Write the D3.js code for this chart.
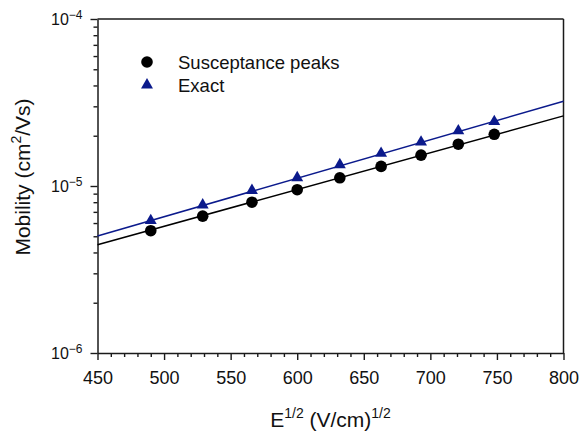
<!DOCTYPE html>
<html>
<head>
<meta charset="utf-8">
<script src="https://cdn.jsdelivr.net/npm/d3@7/dist/d3.min.js"></script>
<style>
  html, body { margin: 0; padding: 0; background: #fff; }
  svg { display: block; font-family: "Liberation Sans", Arial, sans-serif; }
</style>
</head>
<body>
<svg id="chart" width="580" height="432"></svg>
<script>
// Square root of field, (V/cm)^1/2
const fieldSqrt = [490, 529, 566, 600, 632, 663, 693, 721, 748];
// Mobility from susceptance peaks, cm^2/Vs
const mobilitySusceptance = [5.4e-6, 6.6e-6, 8.0e-6, 9.5e-6, 1.12e-5, 1.31e-5, 1.53e-5, 1.78e-5, 2.04e-5];
// Exact mobility, cm^2/Vs
const mobilityExact = [6.2e-6, 7.7e-6, 9.4e-6, 1.12e-5, 1.34e-5, 1.57e-5, 1.83e-5, 2.14e-5, 2.43e-5];
// Fitted lines, evaluated at the axis ends
const fitX = [450, 800];
const fitSusceptance = [4.45e-6, 2.63e-5];
const fitExact = [5.02e-6, 3.22e-5];

const xMajorTicks = [450, 500, 550, 600, 650, 700, 750, 800];
const yMajorExponents = [-6, -5, -4];
const legendLabels = ["Susceptance peaks", "Exact"];

const black = "#000000";
const blue = "#0b1a8c";
const axisColor = "#1a1a1a";

const svg = d3.select("#chart");
const plotLeft = 97.5, plotRight = 563.5, plotTop = 19, plotBottom = 353;

const x = d3.scaleLinear().domain([450, 800]).range([plotLeft, plotRight]);
const y = d3.scaleLog().domain([1e-6, 1e-4]).range([plotBottom, plotTop]);

// minor tick positions
const xMinor = d3.range(450, 801, 10).filter(v => v % 50 !== 0);
const yMinor = [];
[1e-6, 1e-5].forEach(dec => { for (let k = 2; k <= 9; k++) yMinor.push(k * dec); });

// frame: top and right edges
svg.append("line").attr("x1", plotLeft).attr("x2", plotRight).attr("y1", plotTop).attr("y2", plotTop)
  .attr("stroke", axisColor).attr("stroke-width", 1.5);
svg.append("line").attr("x1", plotRight).attr("x2", plotRight).attr("y1", plotTop).attr("y2", plotBottom)
  .attr("stroke", axisColor).attr("stroke-width", 1.5);

// x axis
const gx = svg.append("g").attr("transform", `translate(0,${plotBottom})`);
gx.call(d3.axisBottom(x).tickValues(xMinor).tickSize(4).tickFormat(""))
  .call(g => g.select(".domain").remove());
gx.append("g").call(d3.axisBottom(x).tickValues(xMajorTicks).tickSize(7).tickSizeOuter(0).tickPadding(11).tickFormat(d3.format("d")));
gx.selectAll("line").attr("stroke", axisColor).attr("stroke-width", 1.4);
gx.selectAll(".domain").attr("stroke", axisColor).attr("stroke-width", 1.5);
gx.selectAll("text").attr("font-size", 18).attr("fill", "#111").attr("font-family", "Liberation Sans, Arial, sans-serif");

// y axis
const gy = svg.append("g").attr("transform", `translate(${plotLeft},0)`);
gy.call(d3.axisLeft(y).tickValues(yMinor).tickSize(4).tickFormat(""))
  .call(g => g.select(".domain").remove());
const yMajorValues = yMajorExponents.map(e => Math.pow(10, e));
const gyMajor = gy.append("g").call(d3.axisLeft(y).tickValues(yMajorValues).tickSize(7).tickSizeOuter(0).tickPadding(8).tickFormat(""));
gy.selectAll("line").attr("stroke", axisColor).attr("stroke-width", 1.4);
gy.selectAll(".domain").attr("stroke", axisColor).attr("stroke-width", 1.5);
gyMajor.selectAll(".tick text").each(function(d) {
  const t = d3.select(this)
    .attr("font-size", 16).attr("fill", "#111")
    .attr("font-family", "Liberation Sans, Arial, sans-serif")
    .attr("x", -15)
    .attr("dy", "0.37em");
  t.text(null);
  t.append("tspan").text("10");
  t.append("tspan").attr("font-size", 12).attr("dy", -6)
    .text(String(Math.round(Math.log10(d))).replace("-", "\u2212"));
});

// fit lines
const line = d3.line().x(d => x(d[0])).y(d => y(d[1]));
svg.append("path").datum(fitX.map((v, i) => [v, fitSusceptance[i]]))
  .attr("d", line).attr("fill", "none").attr("stroke", black).attr("stroke-width", 1.5);
svg.append("path").datum(fitX.map((v, i) => [v, fitExact[i]]))
  .attr("d", line).attr("fill", "none").attr("stroke", blue).attr("stroke-width", 1.5);

// data markers
const tri = d3.symbol().type(d3.symbolTriangle).size(62);
svg.append("g").selectAll("path").data(fieldSqrt.map((v, i) => [v, mobilityExact[i]]))
  .join("path").attr("d", tri)
  .attr("transform", d => `translate(${x(d[0])},${y(d[1])})`)
  .attr("fill", blue);
svg.append("g").selectAll("circle").data(fieldSqrt.map((v, i) => [v, mobilitySusceptance[i]]))
  .join("circle")
  .attr("cx", d => x(d[0])).attr("cy", d => y(d[1])).attr("r", 5.8)
  .attr("fill", black);

// legend
const legend = svg.append("g").attr("font-size", 18.5).attr("fill", "#111");
legend.append("circle").attr("cx", 147).attr("cy", 62).attr("r", 5.8).attr("fill", black);
legend.append("path").attr("d", tri).attr("transform", "translate(147,85)").attr("fill", blue);
legend.append("text").attr("x", 178).attr("y", 68.5).text(legendLabels[0]);
legend.append("text").attr("x", 178).attr("y", 92).text(legendLabels[1]);

// axis titles
const xt = svg.append("text").attr("x", (plotLeft + plotRight) / 2).attr("y", 427)
  .attr("text-anchor", "middle").attr("font-size", 21).attr("fill", "#111");
xt.append("tspan").text("E");
xt.append("tspan").attr("font-size", 14).attr("dy", -9).text("1/2");
xt.append("tspan").attr("dy", 9).text(" (V/cm)");
xt.append("tspan").attr("font-size", 14).attr("dy", -9).text("1/2");

const yt = svg.append("text").attr("transform", "translate(30,177) rotate(-90)")
  .attr("text-anchor", "middle").attr("font-size", 21).attr("fill", "#111");
yt.append("tspan").text("Mobility (cm");
yt.append("tspan").attr("font-size", 14).attr("dy", -9).text("2");
yt.append("tspan").attr("dy", 9).text("/Vs)");
</script>
</body>
</html>
